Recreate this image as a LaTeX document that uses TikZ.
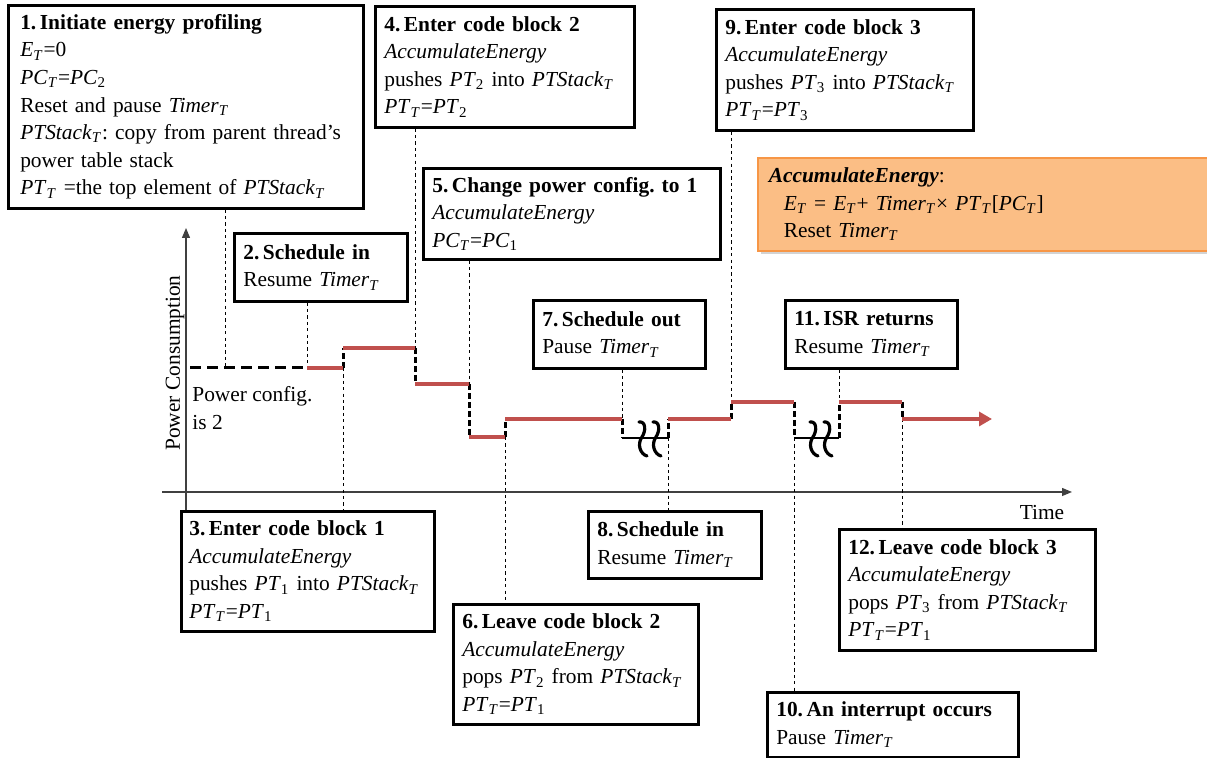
\documentclass[tikz,border=0pt]{standalone}
\usepackage{fontspec}
\setmainfont{Liberation Serif}
\usetikzlibrary{arrows.meta,shadows}
\hyphenpenalty=10000
\exhyphenpenalty=10000
\frenchspacing

\definecolor{powerred}{HTML}{C0504D}
\definecolor{notefill}{HTML}{FBBE85}
\definecolor{noteline}{HTML}{F79646}

\newcommand\Tsub{\textsubscript{\textit{T}}}
\newcommand\nsub[1]{\textsubscript{#1}}
\newcommand\accE{\textit{AccumulateEnergy}}

\tikzset{
  evbox/.style={draw, line width=1.3pt, fill=white, anchor=north west,
    align=left, inner xsep=4.5pt, inner ysep=3pt},
  guide/.style={line width=0.5pt, dash pattern=on 1.6pt off 1.6pt},
  idle/.style={line width=1.5pt, dash pattern=on 5.5pt off 3pt},
  stepline/.style={line width=1.5pt, dash pattern=on 3pt off 1.5pt},
  level/.style={line width=2pt, powerred},
  gapline/.style={line width=1.2pt},
  squig/.pic={\draw[line width=1.6pt, line cap=round]
      (-4,-17) .. controls (3,-18) and (3,-8) .. (-1,-2)
               .. controls (-6,5) and (-3,15) .. (4,17);},
  axis/.style={line width=0.6pt, black!75, -{Triangle[length=5pt,width=4pt]}}
}

\begin{document}
\begin{tikzpicture}[x=0.5pt,y=-0.5pt,
    every node/.style={font=\fontsize{10.7}{13.8}\selectfont}]
\useasboundingbox (0,0) rectangle (1207,758);

% ---- axes ----
\draw[axis] (162,492) -- (1072,492) coordinate (xend);
\draw[axis] (186,510) -- (186,228) coordinate (yend);
\node[rotate=90] (ylab) at (175,363) {Power Consumption};
\node (xlab) at (1042,513) {Time};
\node[anchor=north west, align=left, inner sep=0pt] (cfg) at (192,386)
  {Power config.\\is 2};

% ---- points of the power curve ----
\coordinate (s0)   at (190,368);
\coordinate (p1)   at (225,368);
\coordinate (p2)   at (307,368);
\coordinate (p3)   at (343,368);
\coordinate (p3u)  at (343,348);
\coordinate (p4)   at (415,348);
\coordinate (p4d)  at (415,384);
\coordinate (p5)   at (469,384);
\coordinate (p5d)  at (469,437);
\coordinate (p6)   at (505,437);
\coordinate (p6u)  at (505,419);
\coordinate (p7)   at (622,419);
\coordinate (p7d)  at (622,438);
\coordinate (p8d)  at (668,438);
\coordinate (p8)   at (668,419);
\coordinate (p9)   at (731,419);
\coordinate (p9u)  at (731,402);
\coordinate (p10)  at (794,402);
\coordinate (p10d) at (794,438);
\coordinate (p11d) at (839,438);
\coordinate (p11)  at (839,402);
\coordinate (p12)  at (902,402);
\coordinate (p12d) at (902,419);
\coordinate (pend) at (992,419);

% ---- event boxes ----
\node[evbox, inner xsep=6pt, text width=165.5pt, minimum height=101.5pt] (b1) at (7,4)
  {\textbf{1.\,Initiate energy profiling}\\
   \textit{E}\Tsub{}=0\\
   \textit{PC}\Tsub{}=\textit{PC}\nsub{2}\\
   Reset and pause \textit{Timer}\Tsub\\
   \textit{PTStack}\Tsub: copy from parent thread’s\\
   power table stack\\
   \textit{PT}\Tsub{} =the top element of \textit{PTStack}\Tsub};
\node[evbox, text width=77.5pt, minimum height=34pt] (b2) at (233,232)
  {\textbf{2.\,Schedule in}\\ Resume \textit{Timer}\Tsub};
\node[evbox, inner xsep=4pt, text width=118.5pt, minimum height=60pt] (b3) at (180,510)
  {\textbf{3.\,Enter code block 1}\\ \accE\\
   pushes \textit{PT}\nsub{1} into \textit{PTStack}\Tsub\\
   \textit{PT}\Tsub{}=\textit{PT}\nsub{1}};
\node[evbox, text width=120.5pt, minimum height=60.5pt] (b4) at (374,5)
  {\textbf{4.\,Enter code block 2}\\ \accE\\
   pushes \textit{PT}\nsub{2} into \textit{PTStack}\Tsub\\
   \textit{PT}\Tsub{}=\textit{PT}\nsub{2}};
\node[evbox, text width=139.5pt, minimum height=45.5pt] (b5) at (422,167)
  {\textbf{5.\,Change power config. to 1}\\ \accE\\
   \textit{PC}\Tsub{}=\textit{PC}\nsub{1}};
\node[evbox, text width=113.5pt, minimum height=60pt] (b6) at (452,603)
  {\textbf{6.\,Leave code block 2}\\ \accE\\
   pops \textit{PT}\nsub{2} from \textit{PTStack}\Tsub\\
   \textit{PT}\Tsub{}=\textit{PT}\nsub{1}};
\node[evbox, text width=77pt, minimum height=34pt] (b7) at (532,299)
  {\textbf{7.\,Schedule out}\\ Pause \textit{Timer}\Tsub};
\node[evbox, text width=77.5pt, minimum height=33.5pt] (b8) at (587,510)
  {\textbf{8.\,Schedule in}\\ Resume \textit{Timer}\Tsub};
\node[evbox, text width=119.5pt, minimum height=60.5pt] (b9) at (715,8)
  {\textbf{9.\,Enter code block 3}\\ \accE\\
   pushes \textit{PT}\nsub{3} into \textit{PTStack}\Tsub\\
   \textit{PT}\Tsub{}=\textit{PT}\nsub{3}};
\node[evbox, text width=116.5pt, minimum height=32.5pt] (b10) at (766,691)
  {\textbf{10.\,An interrupt occurs}\\ Pause \textit{Timer}\Tsub};
\node[evbox, text width=77pt, minimum height=34pt] (b11) at (784,299)
  {\textbf{11.\,ISR returns}\\ Resume \textit{Timer}\Tsub};
\node[evbox, text width=119pt, minimum height=60.5pt] (b12) at (838,528)
  {\textbf{12.\,Leave code block 3}\\ \accE\\
   pops \textit{PT}\nsub{3} from \textit{PTStack}\Tsub\\
   \textit{PT}\Tsub{}=\textit{PT}\nsub{1}};

% ---- note on AccumulateEnergy ----
\node[anchor=north west, align=left, fill=notefill, draw=noteline,
      line width=0.8pt, inner xsep=5.5pt, inner ysep=3pt,
      text width=220pt, minimum height=46.5pt,
      drop shadow={opacity=0.35, shadow xshift=1.5pt, shadow yshift=-1.5pt}]
  (note) at (757,157)
  {\textbf{\textit{AccumulateEnergy}}:\\
   \hspace*{7.5pt}\textit{E}\Tsub{} = \textit{E}\Tsub{}+ \textit{Timer}\Tsub{}× \textit{PT}\Tsub{}[\textit{PC}\Tsub{}]\\
   \hspace*{7.5pt}Reset \textit{Timer}\Tsub};

% ---- guides from events to the curve ----
\draw[guide] (b1.south -| p1) -- (p1);
\draw[guide] (b2.south -| p2) -- (p2);
\draw[guide] (p3) -- (b3.north -| p3);
\draw[guide] (b4.south -| p4) -- (p4);
\draw[guide] (b5.south -| p5) -- (p5);
\draw[guide] (p6) -- (b6.north -| p6);
\draw[guide] (b7.south -| p7) -- (p7);
\draw[guide] (p8d) -- (b8.north -| p8d);
\draw[guide] (b9.south -| p9u) -- (p9u);
\draw[guide] (p10d) -- (b10.north -| p10d);
\draw[guide] (b11.south -| p11) -- (p11);
\draw[guide] (p12d) -- (b12.north -| p12d);

% ---- power curve ----
\draw[idle] (s0) -- (p2);
\foreach \a/\b in {p3/p3u, p4/p4d, p5/p5d, p6/p6u, p7/p7d, p8d/p8,
                   p9/p9u, p10/p10d, p11d/p11, p12/p12d}
  \draw[stepline] (\a) -- (\b);
\draw[gapline] (p7d) -- (p8d);
\draw[gapline] (p10d) -- (p11d);
\foreach \a/\b in {p2/p3, p3u/p4, p4d/p5, p5d/p6, p6u/p7, p8/p9,
                   p9u/p10, p11/p12}
  \draw[level] (\a) -- (\b);
\draw[level, -{Triangle[length=6.5pt,width=7pt]}] (p12d) -- (pend);

% ---- breaks in time while the thread is not running ----
\foreach \x in {643,657} \pic at (\x,439) {squig};
\foreach \x in {814,828} \pic at (\x,439) {squig};
\end{tikzpicture}
\end{document}
